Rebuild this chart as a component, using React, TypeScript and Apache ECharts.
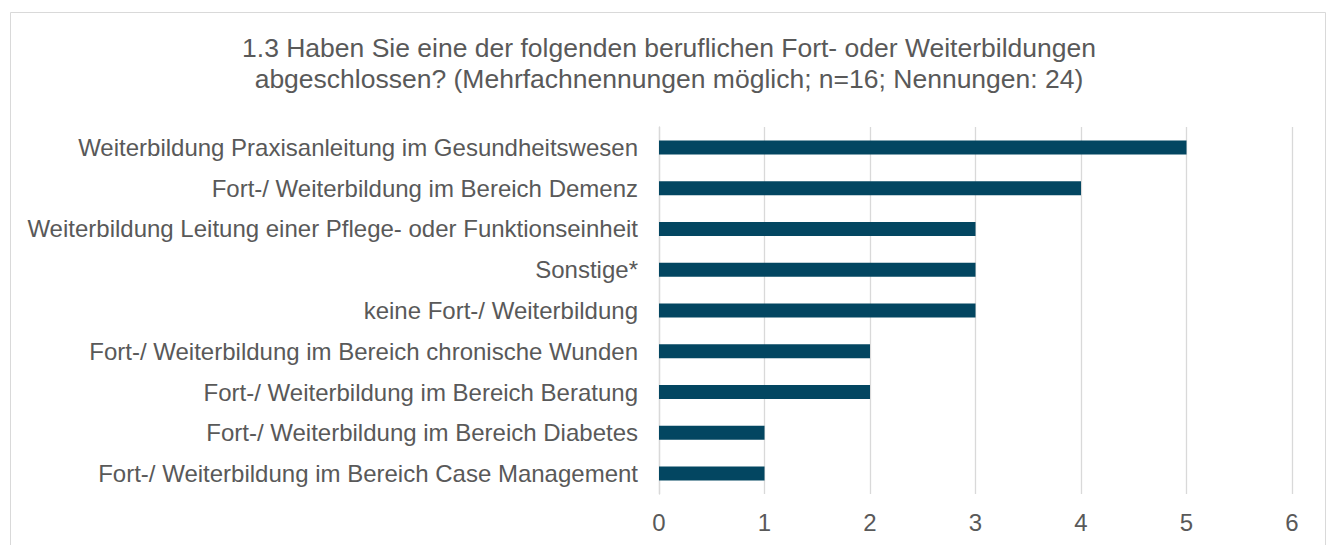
import React, { useEffect, useRef } from "react";
import * as echarts from "echarts";

const categories = [
  "Weiterbildung Praxisanleitung im Gesundheitswesen",
  "Fort-/ Weiterbildung im Bereich Demenz",
  "Weiterbildung Leitung einer Pflege- oder Funktionseinheit",
  "Sonstige*",
  "keine Fort-/ Weiterbildung",
  "Fort-/ Weiterbildung im Bereich chronische Wunden",
  "Fort-/ Weiterbildung im Bereich Beratung",
  "Fort-/ Weiterbildung im Bereich Diabetes",
  "Fort-/ Weiterbildung im Bereich Case Management",
];
const values = [5, 4, 3, 3, 3, 2, 2, 1, 1];
const titleText =
  "1.3 Haben Sie eine der folgenden beruflichen Fort- oder Weiterbildungen\nabgeschlossen? (Mehrfachnennungen möglich; n=16; Nennungen: 24)";

const FONT = "'Liberation Sans', Arial, sans-serif";
const TEXT = "#595959";

export default function App() {
  const ref = useRef<HTMLDivElement>(null);
  useEffect(() => {
    const chart = echarts.init(ref.current!, null, { renderer: "svg" });
    chart.setOption({
      animation: false,
      backgroundColor: "#ffffff",
      textStyle: { fontFamily: FONT },
      title: {
        text: titleText,
        left: 664,
        top: 27,
        textAlign: "center",
        textStyle: {
          fontFamily: FONT,
          fontSize: 26.5,
          fontWeight: "normal",
          color: TEXT,
          lineHeight: 31,
        },
      },
      graphic: [
        {
          type: "rect",
          shape: { x: 10.5, y: 12.5, width: 1315, height: 600 },
          style: { fill: "none", stroke: "#d9d9d9", lineWidth: 1 },
          silent: true,
        },
      ],
      grid: { left: 659, right: 39, top: 127, bottom: 51, containLabel: false },
      xAxis: {
        type: "value",
        min: 0,
        max: 6,
        interval: 1,
        axisLine: { show: false },
        axisTick: { show: false },
        axisLabel: { color: TEXT, fontSize: 24, margin: 16, fontFamily: FONT },
        splitLine: { show: true, lineStyle: { color: "#d9d9d9", width: 1.3 } },
      },
      yAxis: {
        type: "category",
        data: categories,
        inverse: true,
        axisLine: { show: true, lineStyle: { color: "#d9d9d9", width: 1.3 } },
        axisTick: { show: false },
        axisLabel: { color: TEXT, fontSize: 24, margin: 21, fontFamily: FONT },
      },
      series: [
        {
          type: "bar",
          data: values,
          barWidth: 14,
          itemStyle: { color: "#034661" },
        },
      ],
    });
    return () => chart.dispose();
  }, []);
  return (
    <div
      ref={ref}
      style={{ position: "fixed", left: 0, top: 0, width: 1331, height: 545 }}
    />
  );
}
